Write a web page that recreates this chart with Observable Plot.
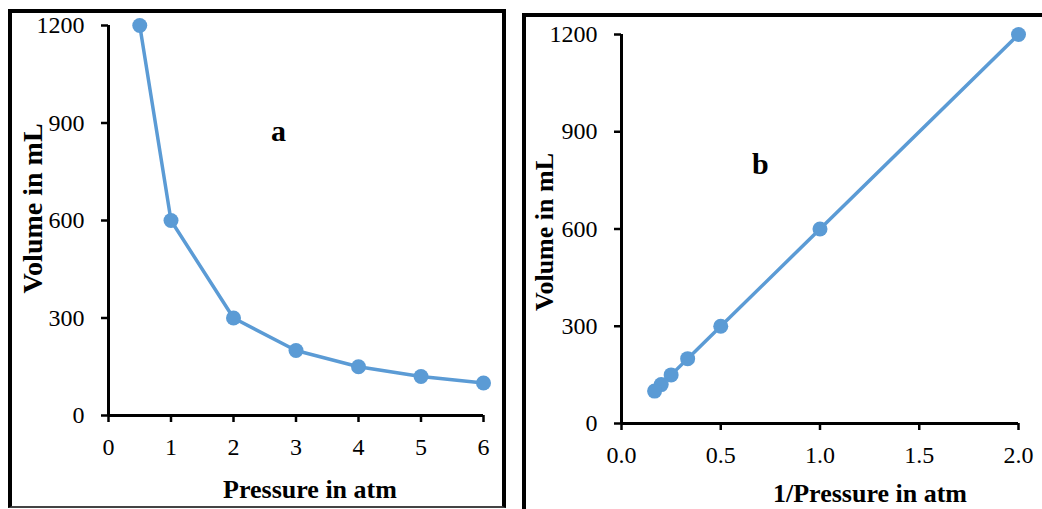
<!DOCTYPE html>
<html>
<head>
<meta charset="utf-8">
<script src="https://cdn.jsdelivr.net/npm/d3@7"></script>
<script src="https://cdn.jsdelivr.net/npm/@observablehq/plot@0.6"></script>
<style>
  html, body { margin: 0; padding: 0; background: #fff; width: 1042px; height: 509px; overflow: hidden; }
  .panel { position: absolute; box-sizing: border-box; }
  #boxA { left: 8px; top: 9px; width: 498px; height: 499px; border-top: 4px solid #000; border-left: 4px solid #000; border-right: 4px solid #000; border-bottom: 2px solid #444; }
  #boxB { left: 522px; top: 13px; width: 530px; height: 510px; border-top: 4px solid #000; border-left: 4px solid #000; }
  .chart { position: absolute; top: 0; }
  #chartA { left: 0px; }
  #chartB { left: 520px; }
  svg { background: transparent !important; overflow: visible; }
  g[aria-label="x-axis tick label"], g[aria-label="y-axis tick label"],
  g[aria-label="x-axis tick label"] text, g[aria-label="y-axis tick label"] text { font-size: 24px !important; }
</style>
</head>
<body>
<div class="panel" id="boxA"></div>
<div class="panel" id="boxB"></div>
<div class="chart" id="chartA"></div>
<div class="chart" id="chartB"></div>
<script>
// Data
const pressure = [0.5, 1, 2, 3, 4, 5, 6];
const volume = [1200, 600, 300, 200, 150, 120, 100];
const invPressure = [2, 1, 0.5, 0.3333, 0.25, 0.2, 0.1667];
const xTicksA = [0, 1, 2, 3, 4, 5, 6];
const xTicksB = [0, 0.5, 1.0, 1.5, 2.0];
const yTicks = [0, 300, 600, 900, 1200];
const yTitle = "Volume in mL";
const xTitleA = "Pressure in atm";
const xTitleB = "1/Pressure in atm";
const noteA = [{label: "a", x: 2.72, y: 875}];
const noteB = [{label: "b", x: 0.70, y: 800}];

const dataA = pressure.map((p, i) => ({x: p, y: volume[i]}));
const dataB = invPressure.map((p, i) => ({x: p, y: volume[i]}));

const blue = "#5B9BD5";
const font = "'Liberation Serif', 'Times New Roman', serif";

function makePlot(opts) {
  return Plot.plot({
    width: opts.width,
    height: 509,
    marginLeft: opts.ml,
    marginRight: opts.mr,
    marginTop: opts.mt,
    marginBottom: opts.mb,
    style: {fontFamily: font, fontSize: "24px", color: "#000", background: "transparent"},
    x: {domain: opts.xDomain},
    y: {domain: [0, 1200]},
    marks: [
      Plot.axisX({ticks: opts.xTicks, tickFormat: opts.xFormat, tickSize: 7, tickPadding: 15, strokeWidth: 2.5, stroke: "#000", fill: "#000", label: null, fontSize: 24}),
      Plot.axisY({ticks: yTicks, tickFormat: d => String(d), tickSize: 7, tickPadding: 17, strokeWidth: 2.5, stroke: "#000", fill: "#000", label: null, fontSize: 24}),
      Plot.ruleY([0], {stroke: "#000", strokeWidth: 3}),
      Plot.ruleX([0], {stroke: "#000", strokeWidth: 3}),
      Plot.line(opts.data, {x: "x", y: "y", stroke: blue, strokeWidth: 3.5}),
      Plot.dot(opts.data, {x: "x", y: "y", r: 7.5, fill: blue, stroke: "none"}),
      Plot.text(opts.note, {x: "x", y: "y", text: "label", fontWeight: "bold", fontSize: 30, fill: "#000"}),
      Plot.text([opts.xTitle], {frameAnchor: "bottom", textAnchor: "middle", dx: opts.xdx, dy: opts.xdy, fontWeight: "bold", fontSize: 26, fill: "#000", lineAnchor: "middle"}),
      Plot.text([yTitle], {frameAnchor: "left", textAnchor: "middle", rotate: -90, dx: opts.ydx, dy: opts.ydy, fontWeight: "bold", fontSize: opts.yFont, fill: "#000", lineAnchor: "middle"})
    ]
  });
}

document.getElementById("chartA").append(makePlot({
  width: 520, ml: 108, mr: 37, mt: 25, mb: 94,
  xDomain: [0, 6], xTicks: xTicksA, xFormat: d => String(d),
  data: dataA, note: noteA, xTitle: xTitleA,
  xdx: 14, xdy: 74, ydx: -75, ydy: -12, yFont: 28
}));

document.getElementById("chartB").append(makePlot({
  width: 522, ml: 101, mr: 24, mt: 34, mb: 86,
  xDomain: [0, 2], xTicks: xTicksB, xFormat: d3.format(".1f"),
  data: dataB, note: noteB, xTitle: xTitleB,
  xdx: 50, xdy: 70, ydx: -77, ydy: 3, yFont: 26
}));
</script>
</body>
</html>
